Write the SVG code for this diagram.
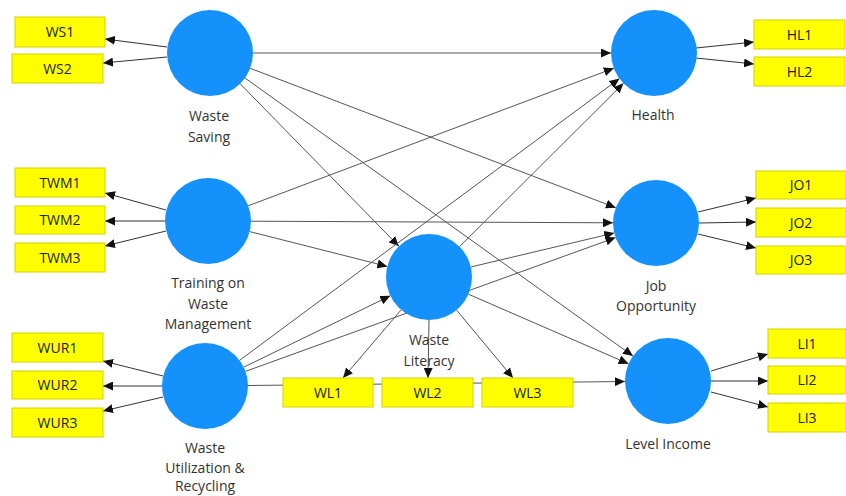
<svg xmlns="http://www.w3.org/2000/svg" width="846" height="496" viewBox="0 0 846 496">
<style>
.c{fill:#1591fb}
.b{fill:#ffff00;stroke:#d2d200;stroke-width:1}
.bt{font-family:"Open Sans","Noto Sans",sans-serif;font-size:14px;fill:#222;text-anchor:middle}
.lt{font-family:"Open Sans","Noto Sans",sans-serif;font-size:14px;fill:#333;text-anchor:middle}
.s{stroke:#555;stroke-width:1;fill:none;marker-end:url(#a)}
.m{stroke:#333;stroke-width:1;fill:none;marker-end:url(#a)}
</style>
<defs>
<marker id="a" markerUnits="userSpaceOnUse" markerWidth="11" markerHeight="9" refX="10" refY="4.5" orient="auto">
<path d="M0,0 L10,4.5 L0,9 Z" fill="#111"/>
</marker>
</defs>
<rect width="846" height="496" fill="#fff"/>
<g id="connectors">
<line class="s" x1="253" y1="53" x2="611" y2="53"/>
<line class="s" x1="250.2" y1="68.3" x2="615.8" y2="207.7"/>
<line class="s" x1="245" y1="78" x2="633" y2="356"/>
<line class="s" x1="240.1" y1="83.7" x2="398.9" y2="246.3"/>
<line class="s" x1="248.2" y1="205.8" x2="613.8" y2="68.2"/>
<line class="s" x1="251" y1="221.2" x2="613" y2="222.8"/>
<line class="s" x1="249.7" y1="231.6" x2="387.3" y2="266.4"/>
<line class="s" x1="239.5" y1="360.4" x2="619.5" y2="78.6"/>
<line class="s" x1="243.7" y1="367.2" x2="390.3" y2="295.8"/>
<line class="s" x1="245.4" y1="371.4" x2="615.6" y2="237.6"/>
<line class="s" x1="248" y1="385.5" x2="625" y2="381.5"/>
<line class="s" x1="459.5" y1="246.7" x2="623.5" y2="83.3"/>
<line class="s" x1="470.8" y1="267" x2="614.2" y2="233"/>
<line class="s" x1="468.4" y1="294.2" x2="628.6" y2="363.8"/>
<line class="s" x1="401" y1="310" x2="343" y2="378"/>
<line class="s" x1="429" y1="320" x2="428" y2="378"/>
<line class="s" x1="456.5" y1="310" x2="513" y2="378"/>
<line class="m" x1="167" y1="47" x2="105" y2="39"/>
<line class="m" x1="167" y1="57" x2="103" y2="63"/>
<line class="m" x1="696" y1="48" x2="754" y2="42"/>
<line class="m" x1="696" y1="58" x2="754" y2="64"/>
<line class="m" x1="166" y1="210" x2="105" y2="193"/>
<line class="m" x1="165" y1="221" x2="105" y2="221"/>
<line class="m" x1="166" y1="231" x2="105" y2="246"/>
<line class="m" x1="698" y1="212" x2="756" y2="198"/>
<line class="m" x1="699" y1="223" x2="756" y2="222"/>
<line class="m" x1="698" y1="234" x2="756" y2="248"/>
<line class="m" x1="163" y1="376" x2="103" y2="361"/>
<line class="m" x1="162" y1="386" x2="103" y2="386"/>
<line class="m" x1="163" y1="397" x2="103" y2="411"/>
<line class="m" x1="711" y1="371" x2="768" y2="354"/>
<line class="m" x1="711" y1="381" x2="768" y2="381"/>
<line class="m" x1="711" y1="392" x2="768" y2="407"/>
</g>
<g id="ws"><circle class="c" cx="210" cy="53" r="43"/><text class="lt" x="209" y="121">Waste</text><text class="lt" x="209" y="142">Saving</text></g>
<g id="health"><circle class="c" cx="654" cy="53" r="43"/><text class="lt" x="653" y="120">Health</text></g>
<g id="twm"><circle class="c" cx="208" cy="221" r="43"/><text class="lt" x="208" y="288">Training on</text><text class="lt" x="208" y="309">Waste</text><text class="lt" x="208" y="329">Management</text></g>
<g id="jo"><circle class="c" cx="656" cy="223" r="43"/><text class="lt" x="656" y="291">Job</text><text class="lt" x="656" y="311">Opportunity</text></g>
<g id="wur"><circle class="c" cx="205" cy="386" r="43"/><text class="lt" x="205" y="453">Waste</text><text class="lt" x="205" y="473">Utilization &amp;</text><text class="lt" x="205" y="491">Recycling</text></g>
<g id="wl"><circle class="c" cx="429" cy="277" r="43"/><text class="lt" x="429" y="345">Waste</text><text class="lt" x="429" y="366">Literacy</text></g>
<g id="li"><circle class="c" cx="668" cy="381" r="43"/><text class="lt" x="668" y="449">Level Income</text></g>
<g id="ws1"><rect class="b" x="15" y="17" width="90" height="30"/><text class="bt" x="60" y="37">WS1</text></g>
<g id="ws2"><rect class="b" x="12" y="54" width="91" height="29"/><text class="bt" x="57.5" y="74">WS2</text></g>
<g id="hl1"><rect class="b" x="754" y="20" width="91" height="29"/><text class="bt" x="799.5" y="40">HL1</text></g>
<g id="hl2"><rect class="b" x="754" y="57" width="91" height="29"/><text class="bt" x="799.5" y="77">HL2</text></g>
<g id="twm1"><rect class="b" x="15" y="168" width="90" height="29"/><text class="bt" x="60" y="188">TWM1</text></g>
<g id="twm2"><rect class="b" x="15" y="206" width="90" height="28"/><text class="bt" x="60" y="225">TWM2</text></g>
<g id="twm3"><rect class="b" x="15" y="243" width="90" height="29"/><text class="bt" x="60" y="263">TWM3</text></g>
<g id="jo1"><rect class="b" x="756" y="171" width="90" height="28"/><text class="bt" x="801" y="190">JO1</text></g>
<g id="jo2"><rect class="b" x="756" y="208" width="90" height="29"/><text class="bt" x="801" y="228">JO2</text></g>
<g id="jo3"><rect class="b" x="756" y="246" width="90" height="28"/><text class="bt" x="801" y="265">JO3</text></g>
<g id="wur1"><rect class="b" x="12" y="333" width="91" height="29"/><text class="bt" x="57.5" y="353">WUR1</text></g>
<g id="wur2"><rect class="b" x="12" y="371" width="91" height="28"/><text class="bt" x="57.5" y="390">WUR2</text></g>
<g id="wur3"><rect class="b" x="12" y="408" width="91" height="29"/><text class="bt" x="57.5" y="428">WUR3</text></g>
<g id="wl1"><rect class="b" x="283" y="378" width="90" height="29"/><text class="bt" x="328" y="398">WL1</text></g>
<g id="wl2"><rect class="b" x="382" y="378" width="91" height="29"/><text class="bt" x="427.5" y="398">WL2</text></g>
<g id="wl3"><rect class="b" x="482" y="378" width="91" height="29"/><text class="bt" x="527.5" y="398">WL3</text></g>
<g id="li1"><rect class="b" x="768" y="329" width="78" height="29"/><text class="bt" x="807" y="349">LI1</text></g>
<g id="li2"><rect class="b" x="768" y="366" width="78" height="28"/><text class="bt" x="807" y="385">LI2</text></g>
<g id="li3"><rect class="b" x="768" y="403" width="78" height="29"/><text class="bt" x="807" y="423">LI3</text></g>
</svg>
